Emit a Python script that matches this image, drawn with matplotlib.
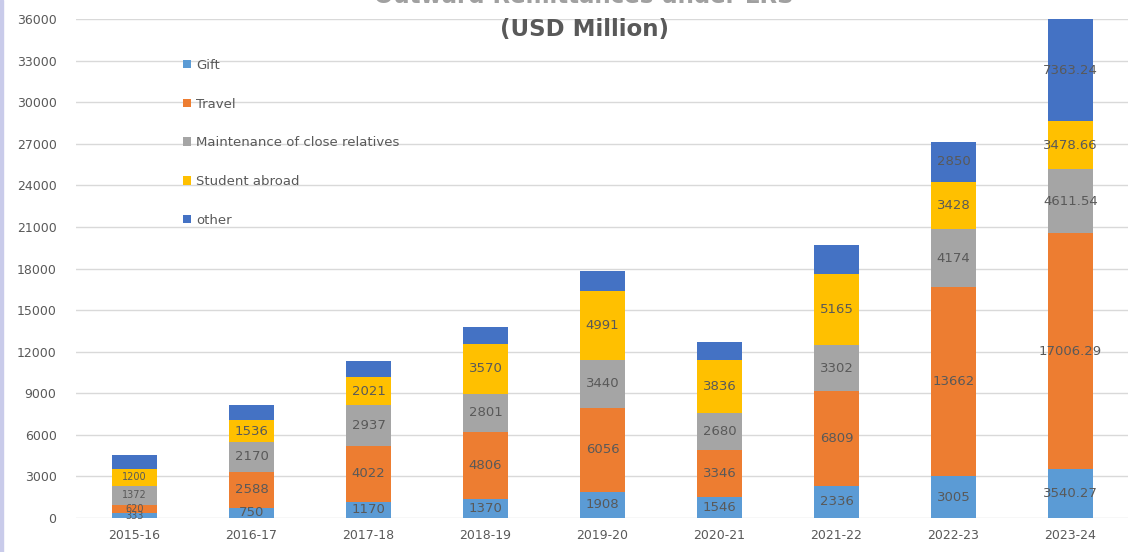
import matplotlib
matplotlib.use("Agg")
import matplotlib.pyplot as plt
import numpy as np

plt.rcParams["font.family"] = ["DejaVu Sans"]

years = ["2015-16", "2016-17", "2017-18", "2018-19", "2019-20",
         "2020-21", "2021-22", "2022-23", "2023-24"]

gift = [333, 750, 1170, 1370, 1908, 1546, 2336, 3005, 3540.27]
travel = [620, 2588, 4022, 4806, 6056, 3346, 6809, 13662, 17006.29]
maintenance = [1372, 2170, 2937, 2801, 3440, 2680, 3302, 4174, 4611.54]
student = [1200, 1536, 2021, 3570, 4991, 3836, 5165, 3428, 3478.66]
other = [1000, 1106, 1170, 1227, 1450, 1300, 2050, 2850, 7363.24]

series_names = ["Gift", "Travel", "Maintenance of close relatives",
                "Student abroad", "other"]
series_vals = [gift, travel, maintenance, student, other]
colors = ["#5B9BD5", "#ED7D31", "#A5A5A5", "#FFC000", "#4472C4"]

fig = plt.figure(figsize=(11.28, 5.52), dpi=100)
ax = fig.add_axes([76 / 1128, 34 / 552, 1053 / 1128, 499 / 552])

# thin lavender border on the left edge of the screenshot
fig.patches.append(plt.Rectangle((0, 0), 3 / 1128, 1, transform=fig.transFigure,
                                 color="#C9CBEA", zorder=0))

x = np.arange(len(years))
bottom = np.zeros(len(years))
txt_color = "#595959"
for name, vals, col in zip(series_names, series_vals, colors):
    vals = np.array(vals, dtype=float)
    ax.bar(x, vals, 0.39, bottom=bottom, color=col, label=name, zorder=2)
    for xi, b, v in zip(x, bottom, vals):
        s = ("%.2f" % v) if v != int(v) else "%d" % v
        if name == "other" and xi < 7:
            continue
        fs = 7 if xi == 0 else 9.5
        ax.text(xi, b + v / 2, s, ha="center", va="center",
                fontsize=fs, color=txt_color, zorder=3)
    bottom += vals

ax.set_xlim(-0.5, len(years) - 0.5)
ax.set_ylim(0, 36000)
ax.set_yticks(np.arange(0, 36001, 3000))
ax.set_xticks(x)
ax.set_xticklabels(years)
ax.tick_params(axis="both", length=0, colors=txt_color, labelsize=9)
ax.tick_params(axis="y", pad=14)
ax.tick_params(axis="x", pad=8)
ax.grid(axis="y", color="#D9D9D9", linewidth=1, zorder=0)
for sp in ax.spines.values():
    sp.set_visible(False)

ax.legend(loc="upper left", bbox_to_anchor=(0.09, 0.944), frameon=False,
          labelspacing=1.95, handlelength=0.6, handleheight=0.6,
          handletextpad=0.4, fontsize=9.5, labelcolor=txt_color)

fig.text(0.518, 0.947, "(USD Million)", ha="center", va="center",
         fontsize=16.5, fontweight="bold", color=txt_color)
# first title line is cropped at the top edge in the screenshot
fig.text(0.518, 1.006, "Outward Remittances under LRS", ha="center",
         va="center", fontsize=16.5, fontweight="bold", color="#a0a0a0")

fig.savefig("out.png", dpi=100)
